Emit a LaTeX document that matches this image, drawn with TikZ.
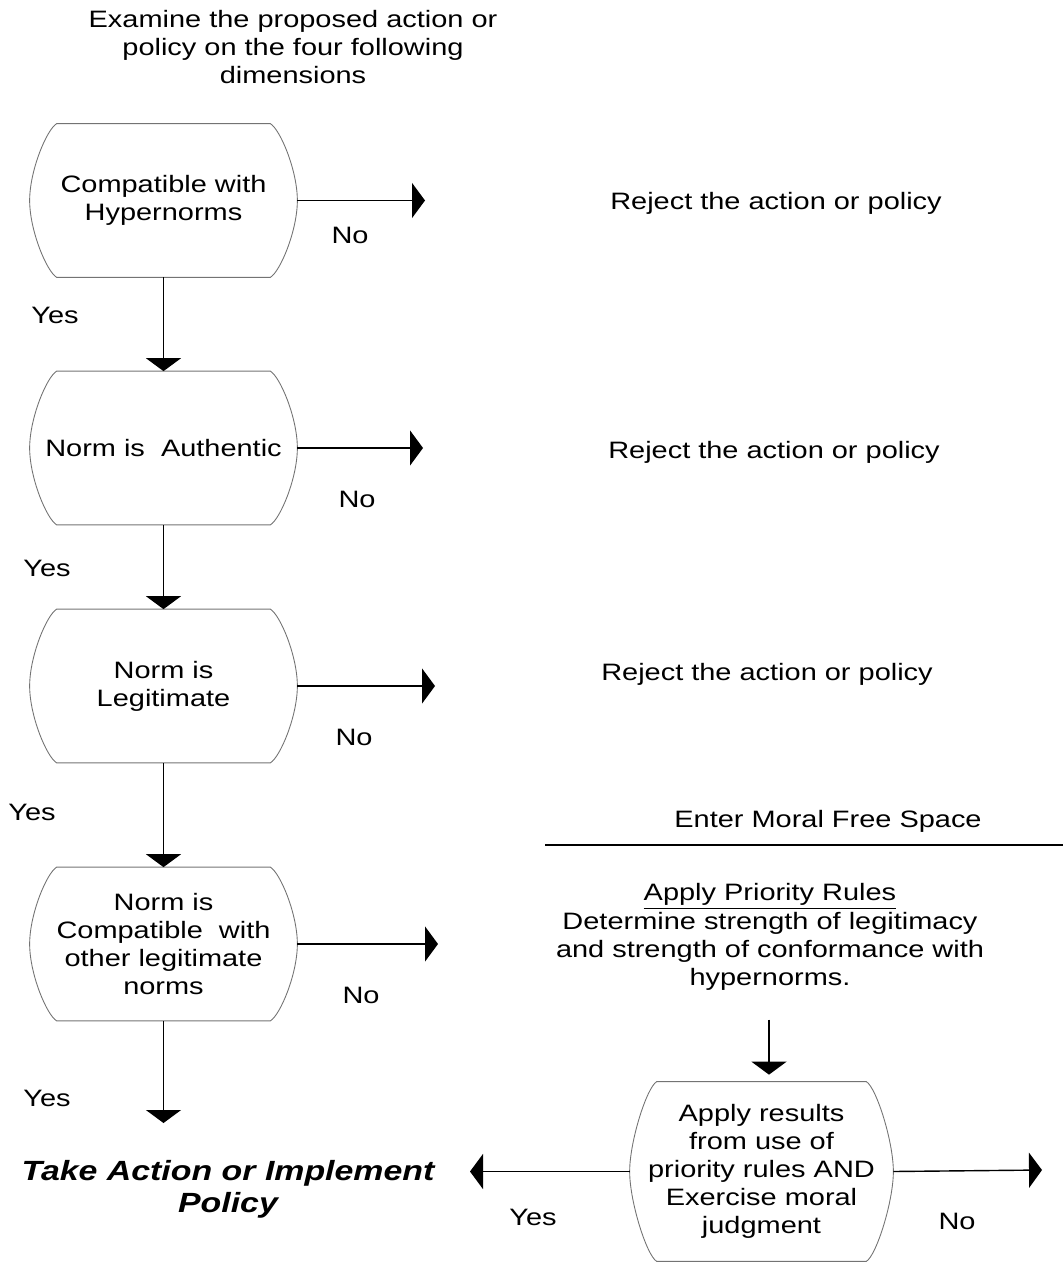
\documentclass[tikz,border=0pt]{standalone}
\usepackage{fontspec}
\setmainfont{Liberation Sans}[FakeStretch=1.22]
\usetikzlibrary{arrows.meta,calc}

\tikzset{
  txt/.style={font=\fontsize{13.5}{16}\selectfont, align=center, inner sep=0pt},
  normbox/.style={txt, minimum width=5.34cm, minimum height=3.06cm},
  boxline/.style={draw=black!55, line width=0.5pt},
  flow/.style={line width=0.8pt, -{Triangle[width=0.7cm,length=0.26cm]}},
}
% outline of a decision box: straight top and bottom, bulging sides
\newcommand\normoutline[1]{%
  \draw[boxline] ($(#1.north west)+(0.54,0)$) -- ($(#1.north east)+(-0.54,0)$)
    .. controls ($(#1.north east)+(-0.34,-0.12)$) and ($(#1.east)+(0,0.6)$) .. (#1.east)
    .. controls ($(#1.east)+(0,-0.6)$) and ($(#1.south east)+(-0.34,0.12)$) .. ($(#1.south east)+(-0.54,0)$)
    -- ($(#1.south west)+(0.54,0)$)
    .. controls ($(#1.south west)+(0.34,0.12)$) and ($(#1.west)+(0,-0.6)$) .. (#1.west)
    .. controls ($(#1.west)+(0,0.6)$) and ($(#1.north west)+(0.34,-0.12)$) .. cycle;}

\begin{document}
\begin{tikzpicture}
  \useasboundingbox (0,0) rectangle (21.26,-25.24);

  \node[txt] (intro) at (5.86,-0.94) {Examine the proposed action or\\ policy on the four following\\ dimensions};

  % the four dimensions
  \node[normbox] (hyper) at (3.27,-4.01) {Compatible with\\ Hypernorms};
  \node[normbox] (auth)  at (3.27,-8.96) {Norm is\ \ Authentic};
  \node[normbox] (legit) at (3.27,-13.72) {Norm is\\ Legitimate};
  \node[normbox] (compat) at (3.27,-18.88) {Norm is\\ Compatible\ \ with\\ other legitimate\\ norms};
  \foreach \b in {hyper,auth,legit,compat} \normoutline{\b};

  \draw[flow] (hyper) -- (auth);
  \draw[flow] (auth) -- (legit);
  \draw[flow] (legit) -- (compat);
  \node[txt] (y1) at (1.1,-6.3) {Yes};
  \node[txt] (y2) at (0.94,-11.36) {Yes};
  \node[txt] (y3) at (0.64,-16.24) {Yes};

  % rejections
  \coordinate (r1) at (8.5,-4.01);
  \coordinate (r2) at (8.46,-8.96);
  \coordinate (r3) at (8.7,-13.72);
  \coordinate (r4) at (8.76,-18.88);
  \draw[flow] (hyper.east) -- (r1);
  \draw[flow] (auth.east) -- (r2);
  \draw[flow] (legit.east) -- (r3);
  \draw[flow] (compat.east) -- (r4);
  \node[txt] (n1) at (7.0,-4.7) {No};
  \node[txt] (n2) at (7.14,-9.98) {No};
  \node[txt] (n3) at (7.08,-14.74) {No};
  \node[txt] (n4) at (7.22,-19.9) {No};
  \node[txt] (rej1) at (15.52,-4.06) {Reject the action or policy};
  \node[txt] (rej2) at (15.48,-9.04) {Reject the action or policy};
  \node[txt] (rej3) at (15.34,-13.48) {Reject the action or policy};

  % take action
  \coordinate (go) at (3.27,-22.46);
  \draw[flow] (compat.south) -- (go);
  \node[txt] (y4) at (0.94,-21.96) {Yes};
  \node[txt, font=\fontsize{15.8}{18.2}\selectfont\bfseries\itshape] (take) at (4.56,-23.78) {Take Action or Implement\\ Policy};

  % moral free space
  \node[txt] (free) at (16.56,-16.42) {Enter Moral Free Space};
  \draw[line width=1pt] (10.9,-16.9) -- (21.26,-16.9);
  \node[txt] (prio) at (15.4,-18.74) {\underline{Apply Priority Rules}\\ Determine strength of legitimacy\\ and strength of conformance with\\ hypernorms.};

  \node[normbox, minimum width=5.26cm, minimum height=3.58cm] (apply) at (15.23,-23.43)
    {Apply results\\ from use of\\ priority rules AND\\ Exercise moral\\ judgment};
  \normoutline{apply}
  \draw[flow] ($(apply.north)+(0.15,1.24)$) -- ($(apply.north)+(0.15,0.14)$);

  \coordinate (yes5) at (9.4,-23.43);
  \coordinate (no5) at (20.84,-23.4);
  \draw[flow] (apply.west) -- (yes5);
  \draw[flow] (apply.east) -- (no5);
  \node[txt] (y5) at (10.66,-24.34) {Yes};
  \node[txt] (n5) at (19.14,-24.42) {No};
\end{tikzpicture}
\end{document}
